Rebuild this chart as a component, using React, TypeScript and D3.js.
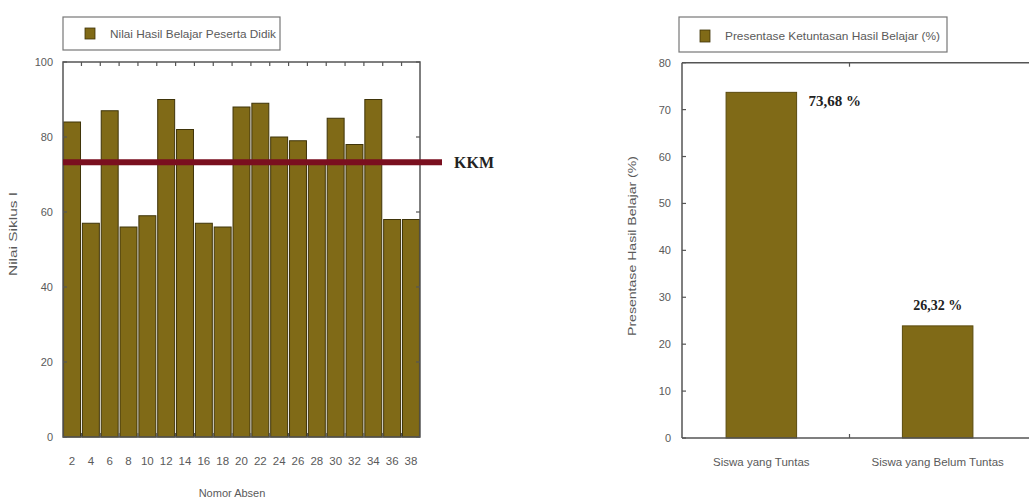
import React from "react";
import * as d3 from "d3";

const absenNumbers = [2, 4, 6, 8, 10, 12, 14, 16, 18, 20, 22, 24, 26, 28, 30, 32, 34, 36, 38];
const nilaiSiklus = [84, 57, 87, 56, 59, 90, 82, 57, 56, 88, 89, 80, 79, 73, 85, 78, 90, 58, 58];
const leftYTicks = [0, 20, 40, 60, 80, 100];
const kkmValue = 73.3;

const ketuntasanCategories = ["Siswa yang Tuntas", "Siswa yang Belum Tuntas"];
const ketuntasanBars = [73.68, 23.9];
const ketuntasanLabels = ["73,68 %", "26,32 %"];
const rightYTicks = [0, 10, 20, 30, 40, 50, 60, 70, 80];

const BAR_FILL = "#806a17";
const BAR_STROKE = "#3f3409";
const AXIS = "#555";
const TEXT = "#5a5a5a";
const SANS = "'Liberation Sans', Arial, sans-serif";
const SERIF = "'Liberation Serif', 'Times New Roman', serif";

export default function App() {
  // Left chart
  const L = { left: 63, right: 420, top: 62, bottom: 437 };
  const xL = d3.scaleBand<number>().domain(absenNumbers).range([L.left, L.right]).paddingInner(0.1).paddingOuter(0.03);
  const yL = d3.scaleLinear().domain([0, 100]).range([L.bottom, L.top]);
  const stepL = xL.step();
  const boundaries = absenNumbers.slice(1).map((d) => (xL(d) as number) - (stepL * xL.paddingInner()) / 2);

  // Right chart
  const R = { left: 682, right: 1017, top: 62.7, bottom: 438 };
  const xR = d3.scaleBand<string>().domain(ketuntasanCategories).range([R.left, R.right]).paddingInner(0.6).paddingOuter(0.25);
  const yR = d3.scaleLinear().domain([0, 80]).range([R.bottom, R.top]);
  const midR = ((xR(ketuntasanCategories[0]) as number) + xR.bandwidth() + (xR(ketuntasanCategories[1]) as number)) / 2;

  return (
    <svg width={1029} height={503} style={{ position: "absolute", left: 0, top: 0, background: "#fff" }}>
      {/* ===== LEFT CHART ===== */}
      {/* legend */}
      <rect x={63} y={17} width={217} height={33} fill="#fff" stroke="#777" strokeWidth={1.2} />
      <rect x={85} y={28} width={10} height={11} fill={BAR_FILL} stroke={BAR_STROKE} strokeWidth={0.8} />
      <text x={110} y={37.5} fontFamily={SANS} fontSize={10.5} fill={TEXT} textLength={166} lengthAdjust="spacingAndGlyphs">
        Nilai Hasil Belajar Peserta Didik
      </text>

      {/* bars */}
      {absenNumbers.map((d, i) => (
        <rect
          key={d}
          x={xL(d)}
          y={yL(nilaiSiklus[i])}
          width={xL.bandwidth()}
          height={yL(0) - yL(nilaiSiklus[i])}
          fill={BAR_FILL}
          stroke={BAR_STROKE}
          strokeWidth={1}
        />
      ))}

      {/* frame */}
      <rect x={L.left} y={L.top} width={L.right - L.left} height={L.bottom - L.top} fill="none" stroke={AXIS} strokeWidth={1.5} />
      {/* top and bottom ticks */}
      {boundaries.map((b, i) => (
        <g key={i}>
          <line x1={b} x2={b} y1={L.top} y2={L.top + 4} stroke={AXIS} strokeWidth={1.2} />
          <line x1={b} x2={b} y1={L.bottom} y2={L.bottom - 4} stroke={AXIS} strokeWidth={1.2} />
        </g>
      ))}
      {/* y ticks */}
      {leftYTicks.map((t) => (
        <g key={t}>
          <line x1={L.left} x2={L.left + 4} y1={yL(t)} y2={yL(t)} stroke={AXIS} strokeWidth={1.2} />
          <line x1={L.right} x2={L.right - 4} y1={yL(t)} y2={yL(t)} stroke={AXIS} strokeWidth={1.2} />
          <text x={53} y={yL(t) + 4} textAnchor="end" fontFamily={SANS} fontSize={11} fill={TEXT}>
            {t}
          </text>
        </g>
      ))}
      {/* x tick labels */}
      {absenNumbers.map((d) => (
        <text key={d} x={(xL(d) as number) + xL.bandwidth() / 2} y={465} textAnchor="middle" fontFamily={SANS} fontSize={11.5} fill={TEXT}>
          {d}
        </text>
      ))}
      <text x={232} y={497} textAnchor="middle" fontFamily={SANS} fontSize={11} fill={TEXT}>
        Nomor Absen
      </text>
      <text
        transform={`translate(17,234) rotate(-90)`}
        textAnchor="middle"
        fontFamily={SANS}
        fontSize={10.5}
        fill={TEXT}
        textLength={84}
        lengthAdjust="spacingAndGlyphs"
      >
        Nilai Siklus I
      </text>

      {/* KKM line */}
      <line x1={L.left} x2={442} y1={yL(kkmValue)} y2={yL(kkmValue)} stroke="#7a0f1f" strokeWidth={6} />
      <text x={454} y={yL(kkmValue) + 6} fontFamily={SERIF} fontWeight="bold" fontSize={16} fill="#222">
        KKM
      </text>

      {/* ===== RIGHT CHART ===== */}
      <rect x={679} y={17} width={268} height={35} fill="#fff" stroke="#777" strokeWidth={1.2} />
      <rect x={700} y={30} width={10} height={12} fill={BAR_FILL} stroke={BAR_STROKE} strokeWidth={0.8} />
      <text x={725} y={39.5} fontFamily={SANS} fontSize={10.5} fill={TEXT} textLength={215} lengthAdjust="spacingAndGlyphs">
        Presentase Ketuntasan Hasil Belajar (%)
      </text>

      {ketuntasanCategories.map((c, i) => (
        <rect
          key={c}
          x={xR(c)}
          y={yR(ketuntasanBars[i])}
          width={xR.bandwidth()}
          height={yR(0) - yR(ketuntasanBars[i])}
          fill={BAR_FILL}
          stroke="#5a4a0e"
          strokeWidth={1}
        />
      ))}

      {/* axes frame */}
      <line x1={R.left} x2={R.left} y1={R.top} y2={R.bottom} stroke={AXIS} strokeWidth={1.5} />
      <line x1={R.left} x2={1029} y1={R.top} y2={R.top} stroke={AXIS} strokeWidth={1.5} />
      <line x1={R.left} x2={1029} y1={R.bottom} y2={R.bottom} stroke={AXIS} strokeWidth={1.5} />
      <line x1={midR} x2={midR} y1={R.top} y2={R.top + 4} stroke={AXIS} strokeWidth={1.2} />
      <line x1={midR} x2={midR} y1={R.bottom} y2={R.bottom - 4} stroke={AXIS} strokeWidth={1.2} />
      {rightYTicks.map((t) => (
        <g key={t}>
          <line x1={R.left} x2={R.left + 4} y1={yR(t)} y2={yR(t)} stroke={AXIS} strokeWidth={1.2} />
          <text x={671} y={yR(t) + 4} textAnchor="end" fontFamily={SANS} fontSize={11} fill={TEXT}>
            {t}
          </text>
        </g>
      ))}
      {ketuntasanCategories.map((c) => (
        <text key={c} x={(xR(c) as number) + xR.bandwidth() / 2} y={466} textAnchor="middle" fontFamily={SANS} fontSize={11.5} fill={TEXT}>
          {c}
        </text>
      ))}
      <text
        transform={`translate(636,246) rotate(-90)`}
        textAnchor="middle"
        fontFamily={SANS}
        fontSize={11}
        fill={TEXT}
        textLength={180}
        lengthAdjust="spacingAndGlyphs"
      >
        Presentase Hasil Belajar (%)
      </text>

      {/* value labels */}
      <text x={(xR(ketuntasanCategories[0]) as number) + xR.bandwidth() + 12} y={yR(ketuntasanBars[0]) + 14} fontFamily={SERIF} fontWeight="bold" fontSize={15} fill="#222">
        {ketuntasanLabels[0]}
      </text>
      <text x={(xR(ketuntasanCategories[1]) as number) + xR.bandwidth() / 2} y={310} textAnchor="middle" fontFamily={SERIF} fontWeight="bold" fontSize={14} fill="#222">
        {ketuntasanLabels[1]}
      </text>
    </svg>
  );
}
